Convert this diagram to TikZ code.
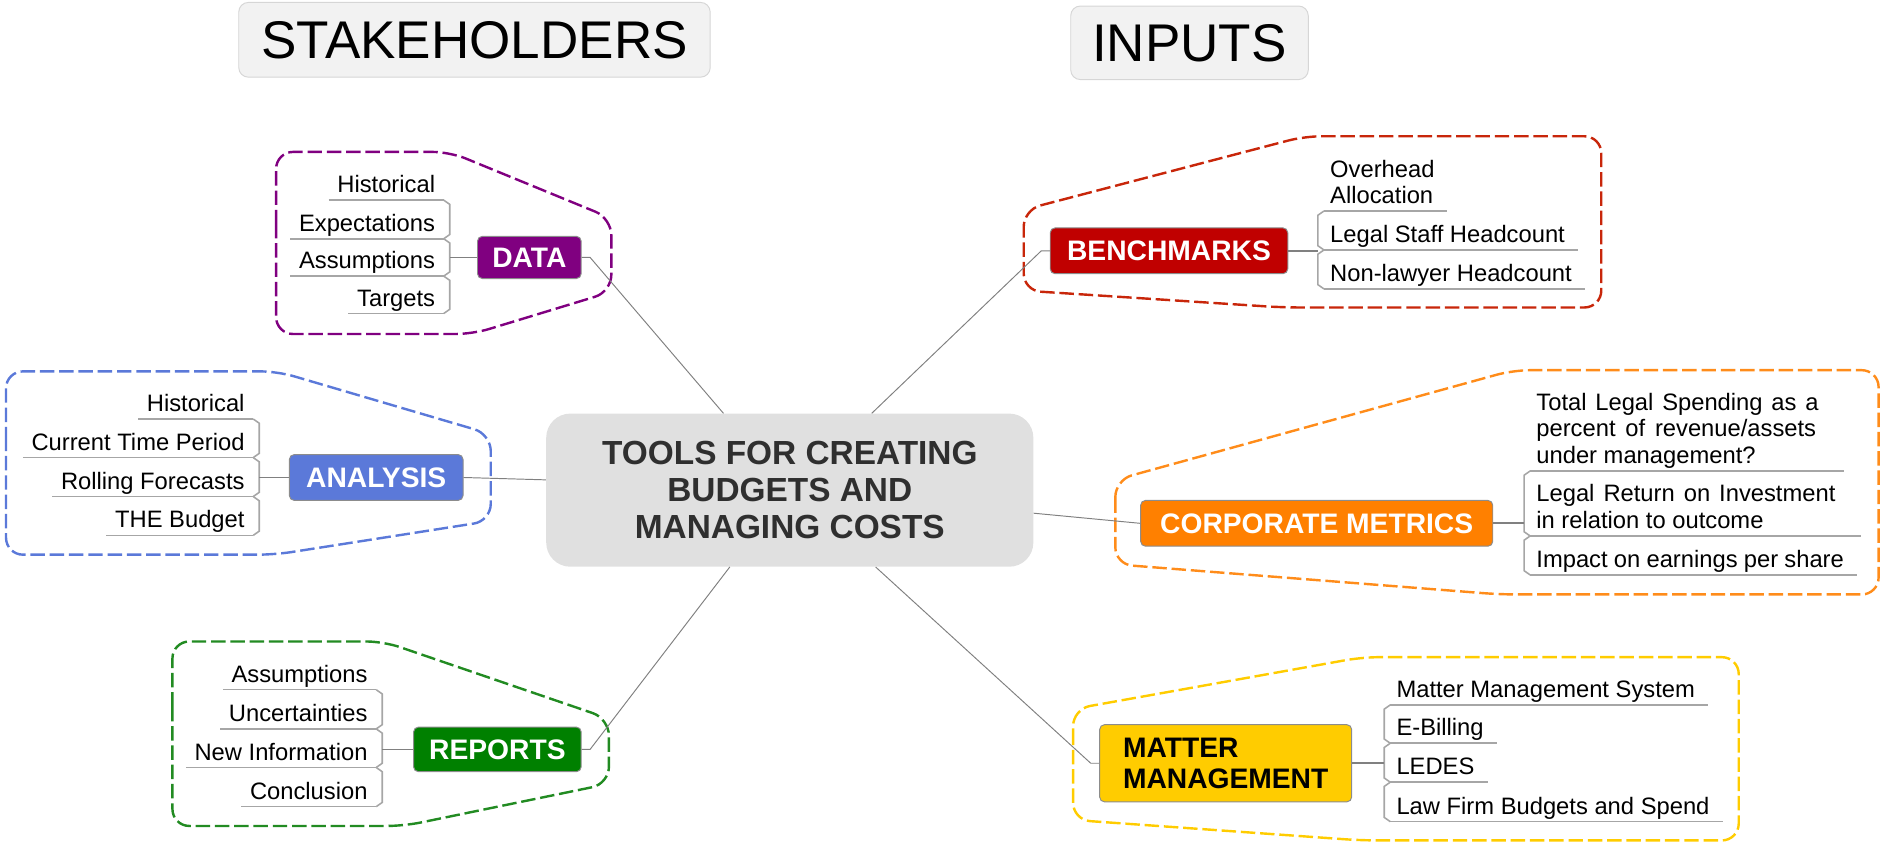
\documentclass[tikz,border=0pt]{standalone}
\usepackage{fontspec}
\setmainfont{Liberation Sans}
\usetikzlibrary{calc}
\definecolor{cData}{HTML}{800080}
\definecolor{cAna}{HTML}{5B79D9}
\definecolor{cRep}{HTML}{008000}
\definecolor{cRepD}{HTML}{228B22}
\definecolor{cBen}{HTML}{C00000}
\definecolor{cBenD}{HTML}{C8260A}
\definecolor{cCor}{HTML}{FF8000}
\definecolor{cCorD}{HTML}{FF8C1A}
\definecolor{cMat}{HTML}{FFCC00}
\definecolor{ctrfill}{HTML}{E0E0E0}
\definecolor{ttlfill}{HTML}{F2F2F2}
\definecolor{ttldraw}{HTML}{D6D6D6}
\definecolor{ulc}{HTML}{A6A6A6}
\definecolor{linkc}{HTML}{808080}
\definecolor{ctrtext}{HTML}{2F2F2F}
\newcommand\kidsL[2]{\draw[uline] (#1.south east) -- ++(5,3.5) -- ($(#2.south east)+(5,-3.5)$) -- (#2.south east);}
\newcommand\kidsR[2]{\draw[uline] (#1.south west) -- ++(-5,3.5) -- ($(#2.south west)+(-5,-3.5)$) -- (#2.south west);}
\begin{document}
\begin{tikzpicture}[x=1pt,y=-1pt,
 title/.style={fill=ttlfill,draw=ttldraw,line width=0.8pt,rounded corners=8pt,font=\fontsize{44}{48}\selectfont,inner sep=0pt},
 hub/.style={fill=ctrfill,rounded corners=20pt,minimum width=404pt,minimum height=127pt,align=center,font=\bfseries\fontsize{27.7}{30.5}\selectfont,text=ctrtext,inner sep=0pt},
 topic/.style={draw=black!45,line width=0.8pt,rounded corners=4pt,text=white,font=\bfseries\fontsize{23.4}{26}\selectfont,inner sep=0pt},
 uline/.style={draw=ulc,line width=1.3pt},
 kid/.style={font=\fontsize{19.7}{22}\selectfont,inner ysep=6pt,text depth=0pt,
   append after command={(\tikzlastnode.south west) edge[uline] (\tikzlastnode.south east)}},
 lkid/.style={kid,inner xsep=7pt,anchor=south east},
 rkid/.style={kid,inner xsep=5pt,anchor=south west,execute at end node={\kern6pt}},
 stub/.style={draw=linkc,line width=1.4pt},
 link/.style={draw=linkc,line width=0.8pt},
 group/.style={dash pattern=on 12pt off 4pt,line width=2pt,rounded corners=14pt},
]
\useasboundingbox (0,0) rectangle (1560,699.1);

% group outlines
\draw[group,draw=cData] (229,200) -- (229,126) -- (373,126) -- (507,181) -- (507,242) -- (392,277) -- (229,277) -- cycle;
\draw[group,draw=cAna] (5,380) -- (5,308) -- (230,308) -- (407,360) -- (407,432) -- (228,460) -- (5,460) -- cycle;
\draw[group,draw=cRepD] (143,600) -- (143,532) -- (318,532) -- (505,596) -- (505,650) -- (335,685) -- (143,685) -- cycle;
\draw[group,draw=cBenD] (849,210) -- (849,174) -- (1082,113) -- (1328,113) -- (1328,255) -- (1064,255) -- (849,241) -- cycle;
\draw[group,draw=cCorD] (925,430) -- (925,398) -- (1255,307) -- (1558,307) -- (1558,493) -- (1244,493) -- (925,468) -- cycle;
\draw[group,draw=cMat] (890,630) -- (890,588) -- (1130,545) -- (1442,545) -- (1442,697) -- (1129,697) -- (890,680) -- cycle;

% titles
\node[title,minimum width=391pt,minimum height=62pt] (stk) at (393.5,33) {STAKEHOLDERS};
\node[title,minimum width=197pt,minimum height=61pt] (inp) at (986.5,35.5) {INPUTS};

% hub
\node[hub] (ctr) at (655,406.5) {TOOLS FOR CREATING\\BUDGETS AND\\MANAGING COSTS};

% topics
\node[topic,fill=cData,minimum width=86pt,minimum height=35pt] (data) at (439,213.5) {DATA};
\node[topic,fill=cAna,minimum width=144pt,minimum height=38pt] (ana) at (312,396) {ANALYSIS};
\node[topic,fill=cRep,minimum width=139pt,minimum height=37pt] (rep) at (412.5,621.5) {REPORTS};
\node[topic,fill=cBen,minimum width=197pt,minimum height=38pt] (ben) at (969.5,208) {BENCHMARKS};
\node[topic,fill=cCor,minimum width=292pt,minimum height=38pt] (cor) at (1092,434) {CORPORATE METRICS};
\node[topic,fill=cMat,text=black,align=left,minimum width=209pt,minimum height=64pt] (mat) at (1016.5,633) {MATTER\\MANAGEMENT};

% links hub -> topics
\draw[link] (data.east) -- ++(7,0) -- ($(ctr.north west)!0.364!(ctr.north east)$);
\draw[link] (ben.west) -- ++(-7,0) -- ($(ctr.north west)!0.668!(ctr.north east)$);
\draw[link] (ana.east) -- ($(ctr.north west)!0.433!(ctr.south west)$);
\draw[link] (cor.west) -- ($(ctr.north east)!0.65!(ctr.south east)$);
\draw[link] (rep.east) -- ++(7,0) -- ($(ctr.south west)!0.377!(ctr.south east)$);
\draw[link] (mat.west) -- ++(-7,0) -- ($(ctr.south west)!0.676!(ctr.south east)$);

% DATA children
\node[lkid] (d1) at (368,166) {Historical};
\node[lkid] (d2) at (368,198) {Expectations};
\node[lkid] (d3) at (368,229) {Assumptions};
\node[lkid] (d4) at (368,260) {Targets};
\kidsL{d1}{d2}\kidsL{d2}{d3}\kidsL{d3}{d4}
\coordinate (dbr) at ($(d1.south east)+(5,0)$);
\draw[stub] (data.west) -- (data.west -| dbr);

% ANALYSIS children
\node[lkid] (a1) at (210,347.5) {Historical};
\node[lkid] (a2) at (210,379.5) {Current Time Period};
\node[lkid] (a3) at (210,411.8) {Rolling Forecasts};
\node[lkid] (a4) at (210,444) {THE Budget};
\kidsL{a1}{a2}\kidsL{a2}{a3}\kidsL{a3}{a4}
\coordinate (abr) at ($(a1.south east)+(5,0)$);
\draw[stub] (ana.west) -- (ana.west -| abr);

% REPORTS children
\node[lkid] (r1) at (312,572) {Assumptions};
\node[lkid] (r2) at (312,604.5) {Uncertainties};
\node[lkid] (r3) at (312,636.5) {New Information};
\node[lkid] (r4) at (312,669) {Conclusion};
\kidsL{r1}{r2}\kidsL{r2}{r3}\kidsL{r3}{r4}
\coordinate (rbrk) at ($(r1.south east)+(5,0)$);
\draw[stub] (rep.west) -- (rep.west -| rbrk);

% BENCHMARKS children
\node[rkid] (b1) at (1098,175) {\vbox{\hbox to 86pt{Overhead\hfil}\hbox{Allocation}}};
\node[rkid] (b2) at (1098,207.3) {Legal Staff Headcount};
\node[rkid] (b3) at (1098,239.6) {Non-lawyer Headcount};
\kidsR{b1}{b2}\kidsR{b2}{b3}
\coordinate (bbr) at ($(b1.south west)+(-5,0)$);
\draw[stub] (ben.east) -- (ben.east -| bbr);

% CORPORATE METRICS children
\node[rkid] (c1) at (1269,390.6) {\vbox{\hbox to 244pt{\makebox[234pt][s]{Total Legal Spending as a}\hfil}\hbox{\makebox[232pt][s]{percent of revenue/assets}}\hbox{under management?}}};
\node[rkid] (c2) at (1269,444.5) {\vbox{\hbox to 258pt{\makebox[248pt][s]{Legal Return on Investment}\hfil}\hbox{in relation to outcome}}};
\node[rkid] (c3) at (1269,476.8) {\hbox to 255pt{Impact on earnings per share\hfil}};
\kidsR{c1}{c2}\kidsR{c2}{c3}
\coordinate (cbr) at ($(c1.south west)+(-5,0)$);
\draw[stub] (cor.east) -- (cor.east -| cbr);

% MATTER MANAGEMENT children
\node[rkid] (m1) at (1153,584.6) {Matter Management System};
\node[rkid] (m2) at (1153,616.4) {E-Billing};
\node[rkid] (m3) at (1153,648.7) {LEDES};
\node[rkid] (m4) at (1153,681.4) {Law Firm Budgets and Spend};
\kidsR{m1}{m2}\kidsR{m2}{m3}\kidsR{m3}{m4}
\coordinate (mbr) at ($(m1.south west)+(-5,0)$);
\draw[stub] (mat.east) -- (mat.east -| mbr);
\end{tikzpicture}
\end{document}
